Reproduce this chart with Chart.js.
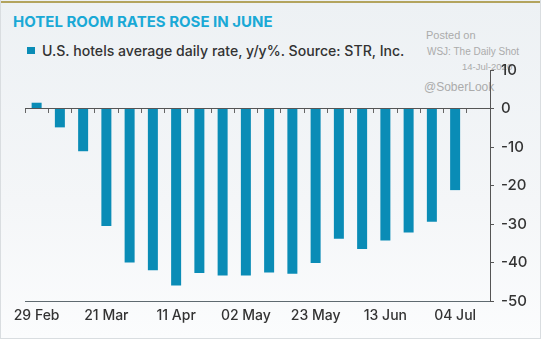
<!DOCTYPE html>
<html>
<head>
<meta charset="utf-8">
<script src="https://cdn.jsdelivr.net/npm/chart.js@4.4.1/dist/chart.umd.min.js"></script>
<style>
  body { margin: 0; background: #fff; }
  #wrap {
    position: relative; width: 541px; height: 339px; overflow: hidden;
    background: linear-gradient(#edf1f4, #f4f6f8 60%, #fbfcfd);
    box-sizing: border-box; border: 1px solid #d9dde0; border-top: none;
    font-family: Inter, "Liberation Sans", sans-serif;
  }
  #goldline { position: absolute; left: 0; top: 1px; width: 541px; height: 2px; background: #b3a45e; }
  #title {
    position: absolute; left: 12px; top: 12px; font-size: 15px; font-weight: 700;
    color: #1aa9d6; white-space: nowrap;
  }
  #legend {
    position: absolute; left: 26px; top: 42px; font-size: 14.1px; font-weight: 500;
    color: #333; white-space: nowrap;
  }
  #legend i { display: inline-block; width: 8px; height: 7px; background: #0a8cb6; margin-right: 7px; vertical-align: 2px; }
  .wm { position: absolute; font-family: "Liberation Sans", Arial, sans-serif; color: #ababab; white-space: nowrap; }
  canvas { position: absolute; left: 0; top: 0; }
</style>
</head>
<body>
<div id="wrap">
  <div id="goldline"></div>
  <div id="title">HOTEL ROOM RATES ROSE IN JUNE</div>
  <div id="legend"><i></i>U.S. hotels average daily rate, y/y%. Source: STR, Inc.</div>
  <div class="wm" style="left:425px;top:29px;font-size:11px">Posted on</div>
  <div class="wm" style="left:426px;top:46px;font-size:10px">WSJ: The Daily Shot</div>
  <div class="wm" style="left:461px;top:61px;font-size:9.5px">14-Jul-2020</div>
  <div class="wm" style="left:423px;top:80px;font-size:12px">@SoberLook</div>
  <canvas id="chart" width="541" height="339"></canvas>
</div>
<script>
// weekly ADR change, % y/y (week ending)
const weeks = ['29 Feb', '07 Mar', '14 Mar', '21 Mar', '28 Mar', '04 Apr', '11 Apr', '18 Apr', '25 Apr', '02 May',
  '09 May', '16 May', '23 May', '30 May', '06 Jun', '13 Jun', '20 Jun', '27 Jun', '04 Jul', '11 Jul'];
const adrChange = [1.5, -4.9, -11.1, -30.5, -40.0, -42.0, -46.0, -42.7, -43.4, -43.4,
  -42.6, -42.9, -40.1, -33.8, -36.5, -34.3, -32.2, -29.4, -21.2, null];
const yTicks = [10, 0, -10, -20, -30, -40, -50];

Chart.defaults.font.family = 'Inter, "Liberation Sans", sans-serif';

const data = {
  labels: weeks,
  datasets: [{
    label: 'U.S. hotels average daily rate, y/y%',
    backgroundColor: '#0a8cb6',
    data: adrChange,
    xAxisID: 'x',
    yAxisID: 'y',
    categoryPercentage: 1,
    barPercentage: 0.43
  }]
};

const config = {
  type: 'bar',
  data: data,
  options: {
    responsive: false,
    animation: false,
    devicePixelRatio: 1,
    layout: { padding: { left: 24, top: 70, right: 0, bottom: 0 } },
    plugins: { legend: { display: false }, title: { display: false }, tooltip: { enabled: false } },
    scales: {
      // zero line with small tick marks between weeks
      x: {
        type: 'category',
        position: { y: 0 },
        offset: true,
        ticks: { display: false },
        grid: { offset: true, drawOnChartArea: false, drawTicks: true, tickLength: 4, color: '#666', lineWidth: 1 },
        border: { display: true, color: '#555', width: 1 }
      },
      x2: {
        type: 'category',
        axis: 'x',
        position: 'bottom',
        offset: true,
        grid: { display: true, drawOnChartArea: false, drawTicks: false },
        border: { display: true, color: '#5f6a70', width: 1 },
        ticks: {
          autoSkip: false, maxRotation: 0, padding: 6, color: '#333',
          font: { size: 14, weight: '500' },
          callback: function (val, i) { return i % 3 === 0 ? this.getLabelForValue(val) : ''; }
        },
        afterFit: s => { s.height = 38; }
      },
      y: {
        position: 'right',
        min: -50,
        max: 10,
        afterBuildTicks: s => { s.ticks = yTicks.map(v => ({ value: v })); },
        grid: { drawOnChartArea: false, drawTicks: true, tickLength: 4, color: '#555' },
        border: { display: true, color: '#555', width: 1 },
        ticks: { padding: 7, color: '#333', font: { size: 15, weight: '500' } },
        afterFit: s => { s.width = 52; }
      }
    }
  }
};

const myChart = new Chart(document.getElementById('chart'), config);
</script>
</body>
</html>
